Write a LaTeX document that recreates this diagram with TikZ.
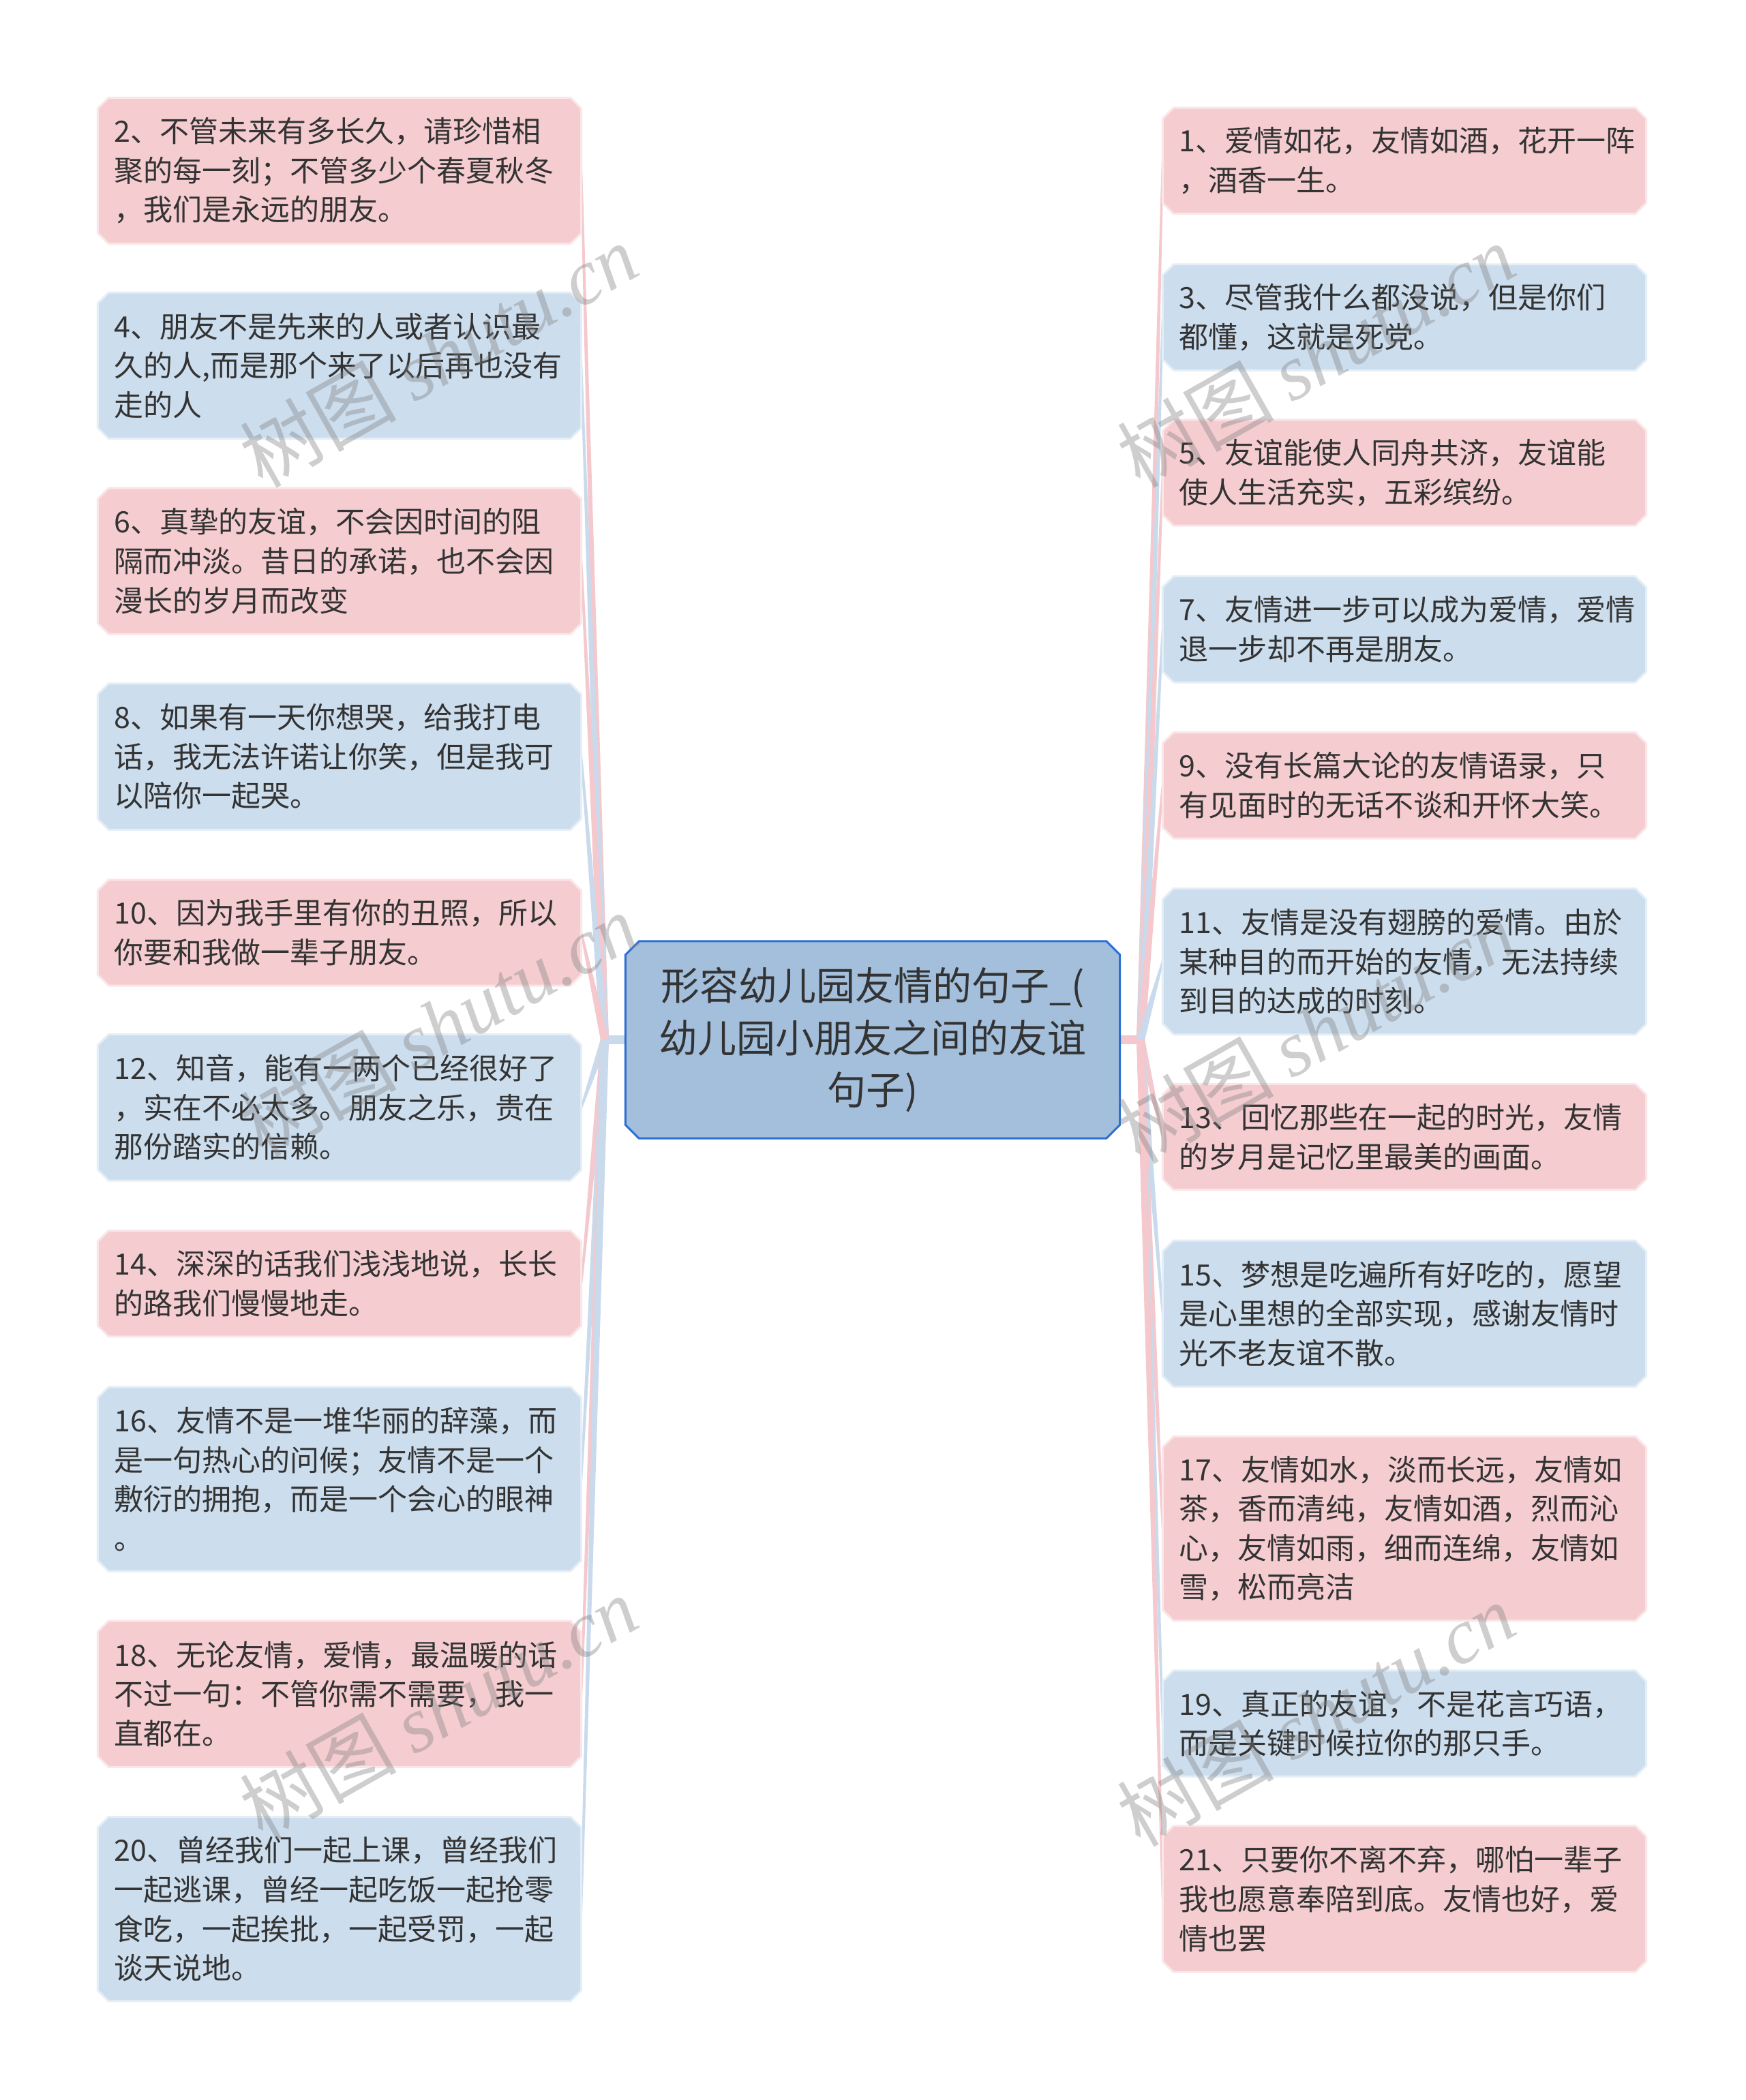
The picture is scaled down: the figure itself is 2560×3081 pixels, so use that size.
\documentclass[tikz,border=0pt]{standalone}
\usepackage{fontspec}
\setmainfont{Noto Sans CJK SC}
\newfontfamily\wmserif{Liberation Serif}
\usetikzlibrary{calc}
\pgfdeclarelayer{background}
\pgfsetlayers{background,main}
\definecolor{pinkf}{RGB}{245,205,208}
\definecolor{pinkb}{RGB}{250,230,232}
\definecolor{bluef}{RGB}{204,221,237}
\definecolor{blueb}{RGB}{228,238,247}
\definecolor{pinkc}{RGB}{244,200,204}
\definecolor{bluec}{RGB}{200,218,236}
\definecolor{rootf}{RGB}{163,191,220}
\definecolor{rootb}{RGB}{45,111,210}
\definecolor{txt}{RGB}{51,51,51}
\newcommand\chamf[4]{%
  \path[fill=#2, draw=#3, line width=3pt]
  ([xshift=#4]#1.north west) -- ([xshift=-#4]#1.north east) -- ([yshift=-#4]#1.north east)
  -- ([yshift=#4]#1.south east) -- ([xshift=-#4]#1.south east) -- ([xshift=#4]#1.south west)
  -- ([yshift=#4]#1.south west) -- ([yshift=-#4]#1.north west) -- cycle;}
\newcommand\conn[3]{%
  \fill[#3] ($(#1)!6pt!90:(#2)$) -- ($(#2)!1.5pt!-90:(#1)$) -- ($(#2)!1.5pt!90:(#1)$) -- ($(#1)!6pt!-90:(#2)$) -- cycle;}
\tikzset{
  leaf/.style={text width=661pt, inner xsep=24pt, inner ysep=0pt, align=left, text=txt,
    font=\fontsize{43}{57.6}\selectfont},
  rootnode/.style={text width=700pt, inner xsep=12.5pt, inner ysep=0pt, align=center, text=txt,
    minimum height=289pt, font=\fontsize{57}{76.6}\selectfont},
  wm/.style={text=black!50, text opacity=0.38, rotate=29.5, font=\fontsize{115}{125}\selectfont}
}
\begin{document}
\begin{tikzpicture}[x=1pt,y=-1pt]
\useasboundingbox (0,0) rectangle (2560,3081);

\node[rootnode] (root) at (1280,1525.5) {形容幼儿园友情的句子\_(\\幼儿园小朋友之间的友谊\\句子)};

% left nodes
\node[leaf, minimum height=214pt] (n2) at (498,250.5) {2、不管未来有多长久，请珍惜相\\聚的每一刻；不管多少个春夏秋冬\\，我们是永远的朋友。};
\node[leaf, minimum height=214pt] (n4) at (498,536.4) {4、朋友不是先来的人或者认识最\\久的人,而是那个来了以后再也没有\\走的人};
\node[leaf, minimum height=214pt] (n6) at (498,823.2) {6、真挚的友谊，不会因时间的阻\\隔而冲淡。昔日的承诺，也不会因\\漫长的岁月而改变};
\node[leaf, minimum height=214pt] (n8) at (498,1110.1) {8、如果有一天你想哭，给我打电\\话，我无法许诺让你笑，但是我可\\以陪你一起哭。};
\node[leaf, minimum height=155pt] (n10) at (498,1368.4) {10、因为我手里有你的丑照，所以\\你要和我做一辈子朋友。};
\node[leaf, minimum height=214pt] (n12) at (498,1624.8) {12、知音，能有一两个已经很好了\\，实在不必太多。朋友之乐，贵在\\那份踏实的信赖。};
\node[leaf, minimum height=155pt] (n14) at (498,1883.2) {14、深深的话我们浅浅地说，长长\\的路我们慢慢地走。};
\node[leaf, minimum height=270pt] (n16) at (498,2170) {16、友情不是一堆华丽的辞藻，而\\是一句热心的问候；友情不是一个\\敷衍的拥抱，而是一个会心的眼神\\。};
\node[leaf, minimum height=214pt] (n18) at (498,2485.3) {18、无论友情，爱情，最温暖的话\\不过一句：不管你需不需要，我一\\直都在。};
\node[leaf, minimum height=270pt] (n20) at (498,2800.7) {20、曾经我们一起上课，曾经我们\\一起逃课，曾经一起吃饭一起抢零\\食吃，一起挨批，一起受罚，一起\\谈天说地。};

% right nodes
\node[leaf, minimum height=155pt] (n1) at (2060,235.8) {1、爱情如花，友情如酒，花开一阵\\，酒香一生。};
\node[leaf, minimum height=155pt] (n3) at (2060,465.6) {3、尽管我什么都没说，但是你们\\都懂，这就是死党。};
\node[leaf, minimum height=155pt] (n5) at (2060,693.5) {5、友谊能使人同舟共济，友谊能\\使人生活充实，五彩缤纷。};
\node[leaf, minimum height=155pt] (n7) at (2060,923.4) {7、友情进一步可以成为爱情，爱情\\退一步却不再是朋友。};
\node[leaf, minimum height=155pt] (n9) at (2060,1152.3) {9、没有长篇大论的友情语录，只\\有见面时的无话不谈和开怀大笑。};
\node[leaf, minimum height=214pt] (n11) at (2060,1410.7) {11、友情是没有翅膀的爱情。由於\\某种目的而开始的友情，无法持续\\到目的达成的时刻。};
\node[leaf, minimum height=155pt] (n13) at (2060,1668.0) {13、回忆那些在一起的时光，友情\\的岁月是记忆里最美的画面。};
\node[leaf, minimum height=214pt] (n15) at (2060,1927.4) {15、梦想是吃遍所有好吃的，愿望\\是心里想的全部实现，感谢友情时\\光不老友谊不散。};
\node[leaf, minimum height=270pt] (n17) at (2060,2242.7) {17、友情如水，淡而长远，友情如\\茶，香而清纯，友情如酒，烈而沁\\心，友情如雨，细而连绵，友情如\\雪，松而亮洁};
\node[leaf, minimum height=155pt] (n19) at (2060,2528.6) {19、真正的友谊，不是花言巧语，\\而是关键时候拉你的那只手。};
\node[leaf, minimum height=214pt] (n21) at (2060,2786.0) {21、只要你不离不弃，哪怕一辈子\\我也愿意奉陪到底。友情也好，爱\\情也罢};

\coordinate (JL) at (887,1525.5);
\coordinate (JR) at (1673,1525.5);

\begin{pgfonlayer}{background}
  \fill[white] (0,0) rectangle (2560,3081);
  % stubs
  \fill[bluec] ([yshift=6.5pt]root.west) rectangle ([yshift=-6.5pt]JL);
  \fill[pinkc] ([yshift=6.5pt]root.east) rectangle ([yshift=-6.5pt]JR);
  % connectors
  \foreach \n/\c in {n2/pinkc,n4/bluec,n6/pinkc,n8/bluec,n10/pinkc,n12/bluec,n14/pinkc,n16/bluec,n18/pinkc,n20/bluec}
    {\conn{JL}{\n.east}{\c}}
  \foreach \n/\c in {n1/pinkc,n3/bluec,n5/pinkc,n7/bluec,n9/pinkc,n11/bluec,n13/pinkc,n15/bluec,n17/pinkc,n19/bluec,n21/pinkc}
    {\conn{JR}{\n.west}{\c}}
  % node shapes
  \foreach \n in {n2,n6,n10,n14,n18,n1,n5,n9,n13,n17,n21}
    {\chamf{\n}{pinkf}{pinkb}{16pt}}
  \foreach \n in {n4,n8,n12,n16,n20,n3,n7,n11,n15,n19}
    {\chamf{\n}{bluef}{blueb}{16pt}}
  \chamf{root}{rootf}{rootb}{20pt}
\end{pgfonlayer}

% watermarks
\node[wm] (w1) at (643,521) {树图 {\wmserif\itshape shutu.cn}};
\node[wm] (w2) at (643,1503) {树图 {\wmserif\itshape shutu.cn}};
\node[wm] (w3) at (643,2505) {树图 {\wmserif\itshape shutu.cn}};
\node[wm] (w4) at (1930,521) {树图 {\wmserif\itshape shutu.cn}};
\node[wm] (w5) at (1930,1513) {树图 {\wmserif\itshape shutu.cn}};
\node[wm] (w6) at (1930,2515) {树图 {\wmserif\itshape shutu.cn}};
\end{tikzpicture}
\end{document}
